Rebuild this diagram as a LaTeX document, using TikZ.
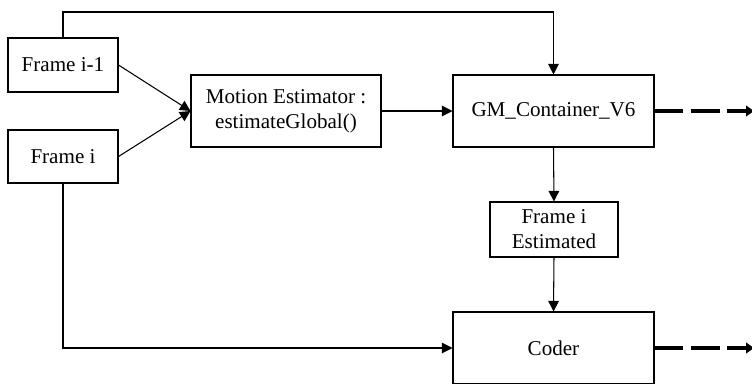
\documentclass[tikz,border=0pt]{standalone}
\usepackage{fontspec}
\setmainfont{Liberation Serif}
\usetikzlibrary{arrows.meta}
\tikzset{
	block/.style={draw, line width=0.6pt, align=center, inner sep=0pt, font=\fontsize{12}{14.2}\selectfont},
	flow/.style={-{Triangle[length=6pt,width=6pt]}, line width=0.6pt},
	outflow/.style={-{Triangle[length=4.5pt,width=6pt]}, line width=2pt, dash pattern=on 16.5pt off 4pt},
}
\begin{document}
\begin{tikzpicture}[x=0.02cm, y=-0.02cm]
		\useasboundingbox (0,0) rectangle (752,383);
		\node[block, minimum width=2.2cm, minimum height=1.08cm] (prev) at (63,65) {Frame i-1};
		\node[block, minimum width=2.2cm, minimum height=1.06cm] (cur) at (63,156.5) {Frame i};
		\node[block, minimum width=3.8cm, minimum height=1.44cm] (est) at (286,111) {Motion Estimator :\\estimateGlobal()};
		\node[block, minimum width=4.02cm, minimum height=1.44cm] (gm) at (553.5,111) {GM\_Container\_V6};
		\node[block, minimum width=2.56cm, minimum height=1.1cm] (fie) at (554,229.5) {Frame i\\Estimated};
		\node[block, minimum width=4.02cm, minimum height=1.44cm] (coder) at (553.5,348) {Coder};
		\coordinate (rail) at (300,12);
		\coordinate (gmout) at (754,111);
		\coordinate (coderout) at (754,348);
		\draw [flow] (prev.east)--(est.west);
		\draw [flow] (cur.east)--(est.west);
		\draw [flow] (est.east)--(gm.west);
		\draw [flow] (prev.north) |- (rail) -| (gm.north);
		\draw [flow] (gm.south)--(fie.north);
		\draw [flow] (fie.south)--(coder.north);
		\draw [flow] (cur.south) |- (coder.west);
		\draw [outflow] (gm.east)--(gmout);
		\draw [outflow] (coder.east)--(coderout);
	\end{tikzpicture}
\end{document}
